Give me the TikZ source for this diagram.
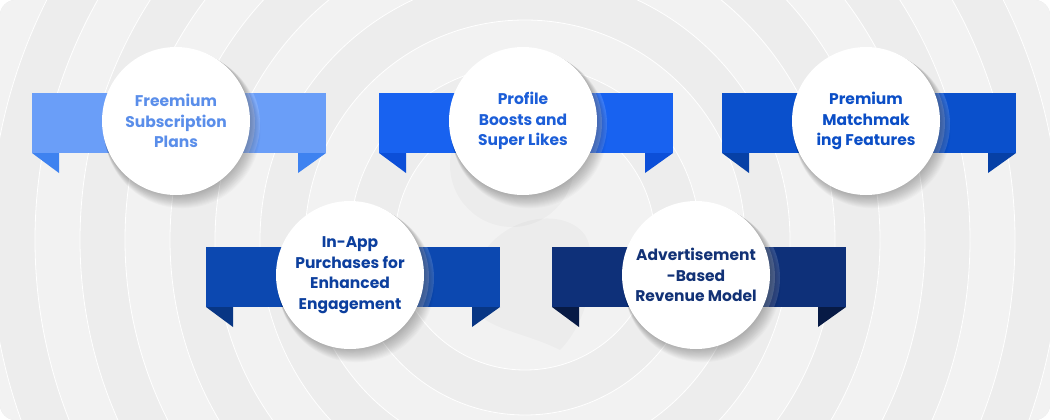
\documentclass[tikz,border=0pt]{standalone}
\usepackage{fontspec}
\setmainfont{Poppins}
\definecolor{bg}{HTML}{EFEFEF}
\definecolor{ringA}{HTML}{EDEDED}
\definecolor{ringB}{HTML}{F2F2F2}
\definecolor{aBody}{HTML}{6A9EF8}\definecolor{aFold}{HTML}{3E82F0}\definecolor{aText}{HTML}{5A8EEA}
\definecolor{bBody}{HTML}{1862F0}\definecolor{bFold}{HTML}{0C4FD8}\definecolor{bText}{HTML}{1C5ED8}
\definecolor{cBody}{HTML}{0A50CC}\definecolor{cFold}{HTML}{0640A6}\definecolor{cText}{HTML}{0B4EC6}
\definecolor{dBody}{HTML}{0C48B0}\definecolor{dFold}{HTML}{083684}\definecolor{dText}{HTML}{0C3F9E}
\definecolor{eBody}{HTML}{0E3079}\definecolor{eFold}{HTML}{071A45}\definecolor{eText}{HTML}{123276}
\tikzset{
  disc/.style={circle, fill=white, minimum size=148pt, inner sep=0pt, align=center,
    font=\bfseries\fontsize{15.5}{20.5}\selectfont},
  shadowdisc/.style={fill=black, opacity=0.018},
}
% \myribbon{cx}{cy}{top}{body}{fold}{text}{name}{label}
\newcommand{\myribbon}[8]{%
  \fill[#4] (#1-144,#3) rectangle (#1,#3+60);
  \fill[#5] (#1-144,#3+60) -- (#1-117,#3+60) -- (#1-117,#3+80) -- cycle;
  \fill[#4] (#1,#3) rectangle (#1+150,#3+60);
  \fill[#5] (#1+122,#3+60) -- (#1+150,#3+60) -- (#1+122,#3+80) -- cycle;
  \begin{scope}
    \clip (#1,#3) rectangle (#1+150,#3+60);
    \fill[white, opacity=0.15] (#1+10,#2+3) circle (74);
    \fill[white, opacity=0.2] (#1+5,#2+2) circle (74);
  \end{scope}
  \foreach \k in {1,...,14}{\fill[shadowdisc] (#1+\k*0.45,#2+\k*0.65) circle (74+\k*0.3);}
  \node[disc, text=#6] (#7) at (#1,#2) {#8};
}
\begin{document}
\begin{tikzpicture}[x=1pt,y=-1pt]
\useasboundingbox (0,0) rectangle (1050,420);
\fill[white] (0,0) rectangle (1050,420);
\begin{scope}
  \clip[rounded corners=16pt] (0,0) rectangle (1050,420);
  \fill[bg] (0,0) rectangle (1050,420);
  \foreach \r [count=\i] in {760,715,670,625,580,535,490,445,400,355,310,265,220,175,130}{
    \pgfmathsetmacro{\shade}{mod(\i,2)==0 ? 1 : 0}
    \ifdim\shade pt>0.5pt
      \fill[ringA] (525,240) circle (\r);
    \else
      \fill[ringB] (525,240) circle (\r);
    \fi
    \draw[white, line width=0.8pt] (525,240) circle (\r);
  }
  % faint silhouette
  \fill[black, opacity=0.025] (512,165) circle (62);
  \fill[black, opacity=0.022] (470,300) .. controls (470,220) and (560,200) .. (585,235)
     .. controls (600,260) and (590,320) .. (560,350) .. controls (520,330) and (480,330) .. (470,300) -- cycle;
\end{scope}
\myribbon{176}{121}{93}{aBody}{aFold}{aText}{n1}{Freemium\\Subscription\\Plans}
\myribbon{523}{121}{93}{bBody}{bFold}{bText}{n2}{Profile\\Boosts and\\Super Likes}
\myribbon{866}{121}{93}{cBody}{cFold}{cText}{n3}{Premium\\Matchmak\\ing Features}
\myribbon{350}{275}{247}{dBody}{dFold}{dText}{n4}{In-App\\Purchases for\\Enhanced\\Engagement}
\myribbon{696}{275}{247}{eBody}{eFold}{eText}{n5}{Advertisement\\-Based\\Revenue Model}
\end{tikzpicture}
\end{document}
